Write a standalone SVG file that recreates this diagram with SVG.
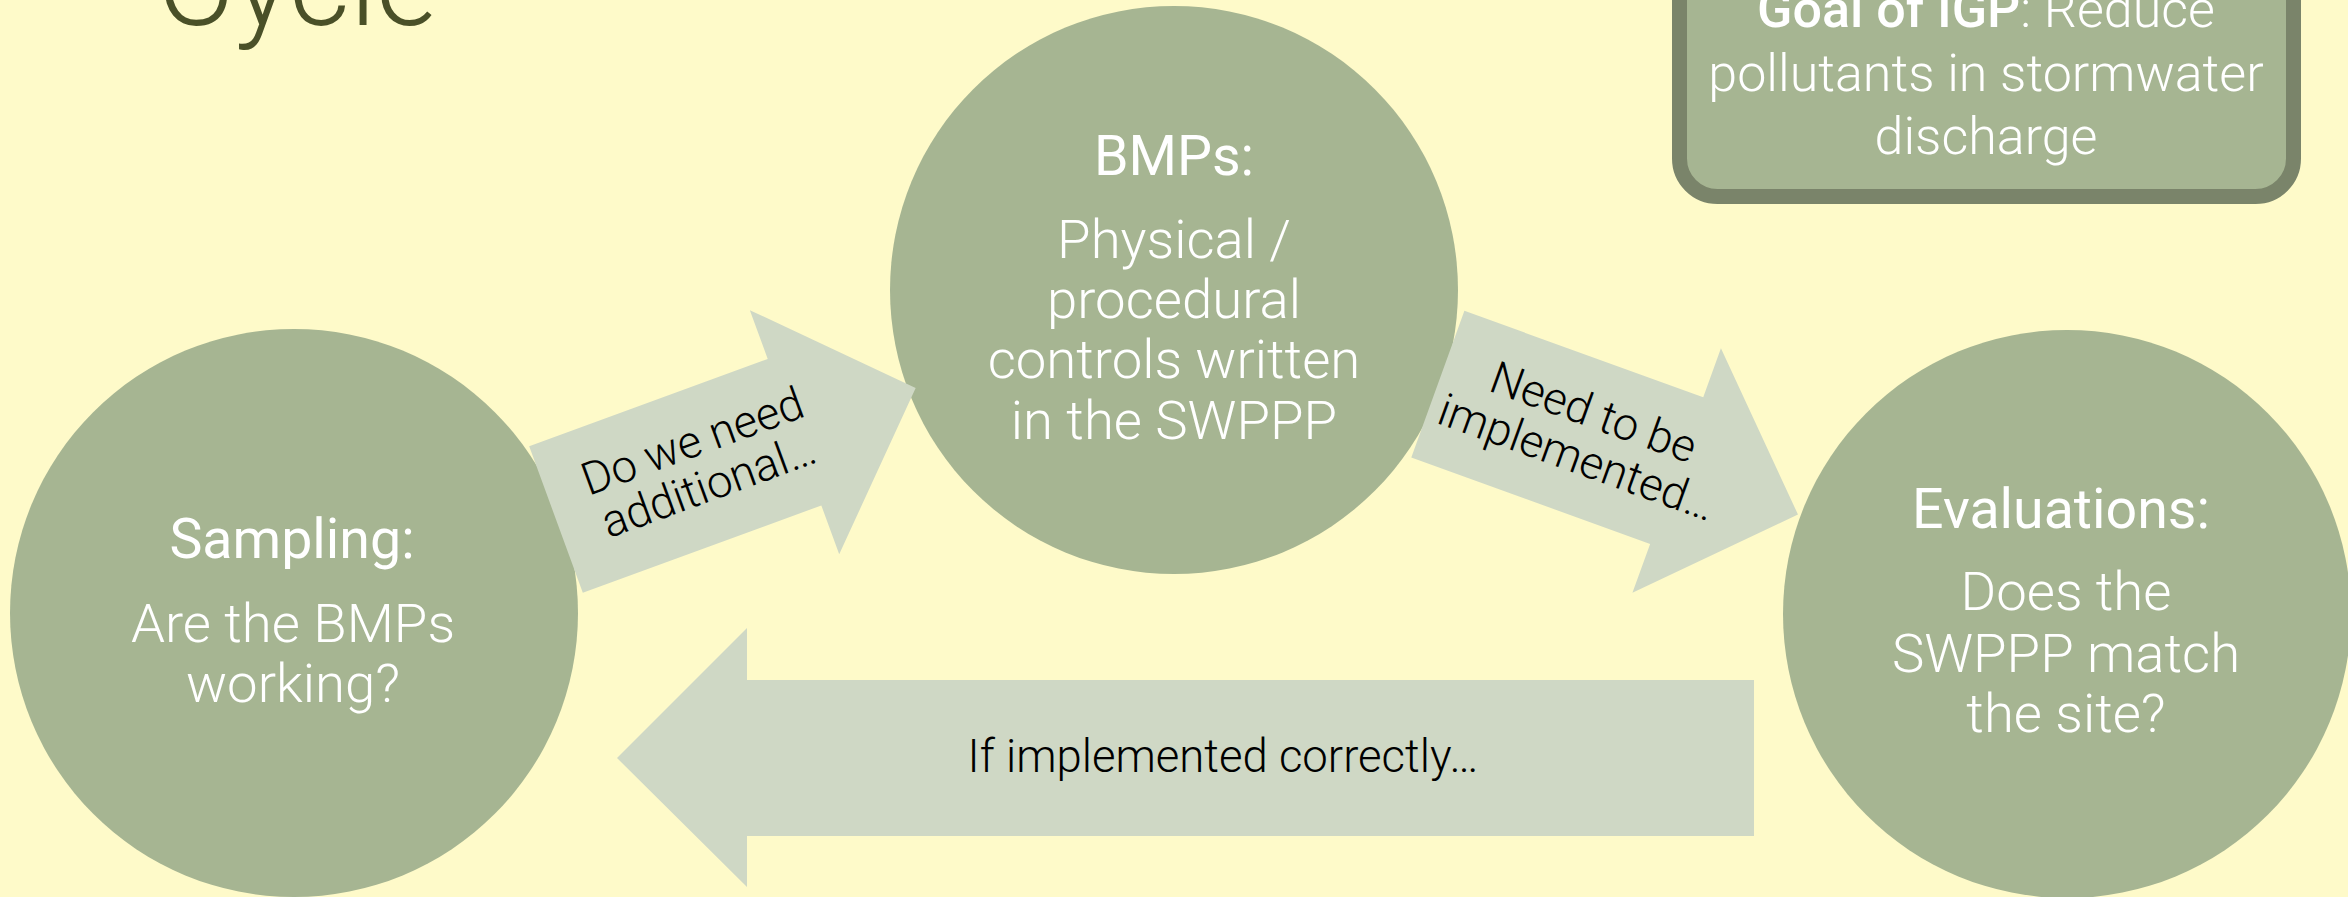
<svg xmlns="http://www.w3.org/2000/svg" width="2348" height="897" viewBox="0 0 2348 897">
  <style>
    .bg { fill: #fefac9; }
    .node { fill: #a6b592; }
    .arrow { fill: #cfd8c5; }
    .goal { fill: #a6b592; stroke: #7a846a; stroke-width: 15; }
    .ttl { font-family: Roboto, "Liberation Sans", Arial, sans-serif; font-weight: 400; fill: #ffffff; font-size: 55.5px; text-anchor: middle; }
    .body { font-family: Roboto, "Liberation Sans", Arial, sans-serif; font-weight: 300; fill: #ffffff; font-size: 54.5px; text-anchor: middle; }
    .lbl { font-family: Roboto, "Liberation Sans", Arial, sans-serif; font-weight: 300; fill: #000000; font-size: 45.5px; text-anchor: middle; }
    .head { font-family: Roboto, "Liberation Sans", Arial, sans-serif; font-weight: 300; fill: #4a5028; font-size: 118px; }
  </style>
  <rect class="bg" x="0" y="0" width="2348" height="897"/>

  <g id="title">
    <text class="head" x="157" y="25">Cycle</text>
  </g>

  <g id="node-goal">
    <rect class="goal" x="1679.5" y="-80" width="614" height="276.5" rx="38" ry="38"/>
    <text class="body" x="1986" y="27" style="font-size:52px"><tspan font-weight="500">Goal of IGP</tspan>: Reduce</text>
    <text class="body" x="1986" y="91" style="font-size:52px">pollutants in stormwater</text>
    <text class="body" x="1986" y="154" style="font-size:52px">discharge</text>
  </g>

  <g id="node-sampling">
    <circle class="node" cx="294" cy="613" r="284"/>
    <text class="ttl" x="292" y="558">Sampling:</text>
    <text class="body" x="293" y="642">Are the BMPs</text>
    <text class="body" x="293" y="702">working?</text>
  </g>

  <g id="node-bmps">
    <circle class="node" cx="1174" cy="290" r="284"/>
    <text class="ttl" x="1174" y="175">BMPs:</text>
    <text class="body" x="1174" y="258">Physical /</text>
    <text class="body" x="1174" y="318">procedural</text>
    <text class="body" x="1174" y="378">controls written</text>
    <text class="body" x="1174" y="439">in the SWPPP</text>
  </g>

  <g id="node-evaluations">
    <circle class="node" cx="2067" cy="614" r="284"/>
    <text class="ttl" x="2061" y="528">Evaluations:</text>
    <text class="body" x="2066" y="610">Does the</text>
    <text class="body" x="2066" y="672">SWPPP match</text>
    <text class="body" x="2066" y="732">the site?</text>
  </g>

  <g id="connectors">
    <g id="arrow-sampling-bmps" transform="translate(556 519.5) rotate(-20.1)">
      <polygon class="arrow" points="0,-78 254,-78 254,-130 383,0 254,130 254,78 0,78"/>
      <text class="lbl" x="155" y="-11">Do we need</text>
      <text class="lbl" x="155" y="36">additional…</text>
    </g>
    <g id="arrow-bmps-evaluations" transform="translate(1437.85 384.15) rotate(19.9)">
      <polygon class="arrow" points="0,-78 254,-78 254,-130 383,0 254,130 254,78 0,78"/>
      <text class="lbl" x="156" y="-11">Need to be</text>
      <text class="lbl" x="156" y="37">implemented…</text>
    </g>
    <g id="arrow-evaluations-sampling">
      <polygon class="arrow" points="617,758 747,628 747,680 1754,680 1754,836 747,836 747,887"/>
      <text class="lbl" x="1223" y="772">If implemented correctly…</text>
    </g>
  </g>
</svg>
